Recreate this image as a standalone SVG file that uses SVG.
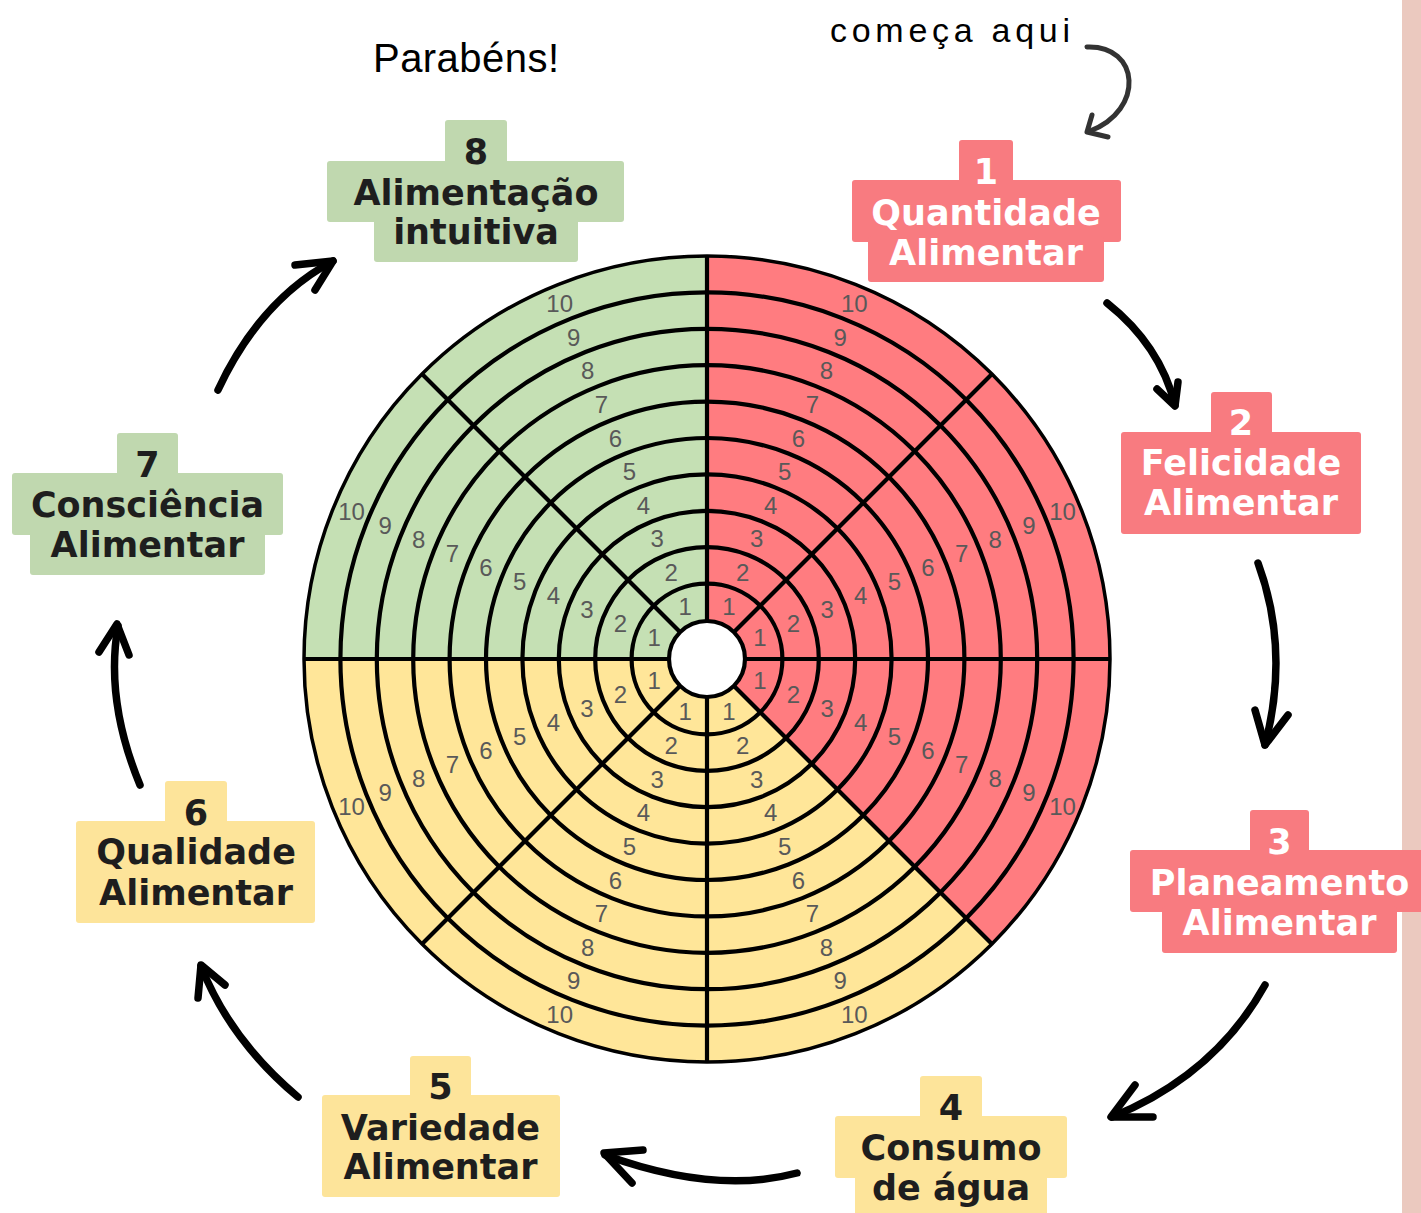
<svg xmlns="http://www.w3.org/2000/svg" width="1421" height="1213" viewBox="0 0 1421 1213">
<defs>
<style>
.ring{fill:none;stroke:#000;stroke-width:4.2}
.spoke{stroke:#000;stroke-width:4.2}
.num text{font-family:"Liberation Sans",Arial,sans-serif;font-size:24px;fill:#595959;text-anchor:middle;dominant-baseline:central}
.arrow{fill:none;stroke:#000;stroke-width:7.5;stroke-linecap:round;stroke-linejoin:round}
.arrow2{fill:none;stroke:#333;stroke-width:5;stroke-linecap:round;stroke-linejoin:round}
.lbl{font-family:"DejaVu Sans",Verdana,sans-serif;font-weight:bold;font-size:35px;text-anchor:middle}
.red rect{fill:#f87b80}
.yel rect{fill:#fde49a}
.grn rect{fill:#c0d8af}
.red text{fill:#fff}
.yel text,.grn text{fill:#1e1e1e}
.hand{font-family:"Liberation Sans",Arial,sans-serif;fill:#000}
</style>
</defs>
<rect x="0" y="0" width="1421" height="1213" fill="#fff"/>
<rect x="1402" y="0" width="19" height="1213" fill="#ebc9bf"/>

<g id="wheel">
<path d="M707,659 L707,256 A403,403 0 0 1 991.96,943.96 Z" fill="#ff7c80"/>
<path d="M707,659 L991.96,943.96 A403,403 0 0 1 304,659 Z" fill="#ffe699"/>
<path d="M707,659 L304,659 A403,403 0 0 1 707,256 Z" fill="#c5e0b4"/>
<circle class="ring" cx="707" cy="659" r="75.4"/>
<circle class="ring" cx="707" cy="659" r="111.8"/>
<circle class="ring" cx="707" cy="659" r="148.2"/>
<circle class="ring" cx="707" cy="659" r="184.6"/>
<circle class="ring" cx="707" cy="659" r="221"/>
<circle class="ring" cx="707" cy="659" r="257.4"/>
<circle class="ring" cx="707" cy="659" r="293.8"/>
<circle class="ring" cx="707" cy="659" r="330.2"/>
<circle class="ring" cx="707" cy="659" r="366.6"/>
<circle class="ring" cx="707" cy="659" r="403" style="stroke-width:3.5"/>
<line class="spoke" x1="707" y1="256" x2="707" y2="1062"/>
<line class="spoke" x1="304" y1="659" x2="1110" y2="659"/>
<line class="spoke" x1="422.04" y1="374.04" x2="991.96" y2="943.96"/>
<line class="spoke" x1="991.96" y1="374.04" x2="422.04" y2="943.96"/>
<circle cx="707" cy="659" r="38" fill="#fff" stroke="#000" stroke-width="4.2"/>
<g class="num" transform="translate(707,659)">
<text x="21.9" y="-52.9">1</text><text x="35.8" y="-86.5">2</text><text x="49.8" y="-120.1">3</text><text x="63.7" y="-153.7">4</text><text x="77.6" y="-187.4">5</text><text x="91.5" y="-221">6</text><text x="105.5" y="-254.6">7</text><text x="119.4" y="-288.3">8</text><text x="133.3" y="-321.9">9</text><text x="147.3" y="-355.5">10</text>
<text x="52.9" y="-21.9">1</text><text x="86.5" y="-35.8">2</text><text x="120.1" y="-49.8">3</text><text x="153.7" y="-63.7">4</text><text x="187.4" y="-77.6">5</text><text x="221" y="-91.5">6</text><text x="254.6" y="-105.5">7</text><text x="288.3" y="-119.4">8</text><text x="321.9" y="-133.3">9</text><text x="355.5" y="-147.3">10</text>
<text x="52.9" y="21.9">1</text><text x="86.5" y="35.8">2</text><text x="120.1" y="49.8">3</text><text x="153.7" y="63.7">4</text><text x="187.4" y="77.6">5</text><text x="221" y="91.5">6</text><text x="254.6" y="105.5">7</text><text x="288.3" y="119.4">8</text><text x="321.9" y="133.3">9</text><text x="355.5" y="147.3">10</text>
<text x="21.9" y="52.9">1</text><text x="35.8" y="86.5">2</text><text x="49.8" y="120.1">3</text><text x="63.7" y="153.7">4</text><text x="77.6" y="187.4">5</text><text x="91.5" y="221">6</text><text x="105.5" y="254.6">7</text><text x="119.4" y="288.3">8</text><text x="133.3" y="321.9">9</text><text x="147.3" y="355.5">10</text>
<text x="-21.9" y="52.9">1</text><text x="-35.8" y="86.5">2</text><text x="-49.8" y="120.1">3</text><text x="-63.7" y="153.7">4</text><text x="-77.6" y="187.4">5</text><text x="-91.5" y="221">6</text><text x="-105.5" y="254.6">7</text><text x="-119.4" y="288.3">8</text><text x="-133.3" y="321.9">9</text><text x="-147.3" y="355.5">10</text>
<text x="-52.9" y="21.9">1</text><text x="-86.5" y="35.8">2</text><text x="-120.1" y="49.8">3</text><text x="-153.7" y="63.7">4</text><text x="-187.4" y="77.6">5</text><text x="-221" y="91.5">6</text><text x="-254.6" y="105.5">7</text><text x="-288.3" y="119.4">8</text><text x="-321.9" y="133.3">9</text><text x="-355.5" y="147.3">10</text>
<text x="-52.9" y="-21.9">1</text><text x="-86.5" y="-35.8">2</text><text x="-120.1" y="-49.8">3</text><text x="-153.7" y="-63.7">4</text><text x="-187.4" y="-77.6">5</text><text x="-221" y="-91.5">6</text><text x="-254.6" y="-105.5">7</text><text x="-288.3" y="-119.4">8</text><text x="-321.9" y="-133.3">9</text><text x="-355.5" y="-147.3">10</text>
<text x="-21.9" y="-52.9">1</text><text x="-35.8" y="-86.5">2</text><text x="-49.8" y="-120.1">3</text><text x="-63.7" y="-153.7">4</text><text x="-77.6" y="-187.4">5</text><text x="-91.5" y="-221">6</text><text x="-105.5" y="-254.6">7</text><text x="-119.4" y="-288.3">8</text><text x="-133.3" y="-321.9">9</text><text x="-147.3" y="-355.5">10</text>
</g>
</g>

<g id="connectors">
<path class="arrow2" d="M1087,47 C1140,45 1145,110 1090,131"/>
<polyline class="arrow2" points="1092,115 1087,132 1108,137"/>
<path class="arrow" d="M1107,303 Q1160,345 1175,405"/>
<polyline class="arrow" points="1157,389 1175,406 1178,382"/>
<path class="arrow" d="M1258,563 Q1290,650 1265,745"/>
<polyline class="arrow" points="1255,710 1265,745 1288,715"/>
<path class="arrow" d="M1265,985 Q1215,1075 1112,1117"/>
<polyline class="arrow" points="1135,1085 1111,1117 1153,1117"/>
<path class="arrow" d="M797,1173 Q715,1195 605,1155"/>
<polyline class="arrow" points="643,1150 604,1153 632,1183"/>
<path class="arrow" d="M298,1097 Q230,1040 201,966"/>
<polyline class="arrow" points="198,998 201,965 225,985"/>
<path class="arrow" d="M140,785 Q105,700 118,626"/>
<polyline class="arrow" points="99,652 117,624 129,655"/>
<path class="arrow" d="M218,390 Q260,300 333,261"/>
<polyline class="arrow" points="295,265 333,261 315,290"/>
</g>

<g id="start-note">
<text class="hand" x="830" y="42" font-size="34" textLength="240" lengthAdjust="spacing">começa aqui</text>
</g>
<g id="end-note">
<text class="hand" x="373" y="72" font-size="40" textLength="186" lengthAdjust="spacing">Parabéns!</text>
</g>

<g id="node1" class="red">
<rect x="959" y="140" width="54" height="46" rx="3"/>
<rect x="852" y="180" width="269" height="62" rx="3"/>
<rect x="868" y="236" width="236" height="46" rx="3"/>
<text class="lbl" x="986" y="184">1</text>
<text class="lbl" x="986" y="225">Quantidade</text>
<text class="lbl" x="986" y="265">Alimentar</text>
</g>
<g id="node2" class="red">
<rect x="1211" y="392" width="61" height="46" rx="3"/>
<rect x="1121" y="432" width="240" height="102" rx="3"/>
<text class="lbl" x="1241" y="435">2</text>
<text class="lbl" x="1241" y="475">Felicidade</text>
<text class="lbl" x="1241" y="515">Alimentar</text>
</g>
<g id="node3" class="red">
<rect x="1250" y="810" width="59" height="46" rx="3"/>
<rect x="1130" y="850" width="295" height="62" rx="3"/>
<rect x="1162" y="906" width="235" height="47" rx="3"/>
<text class="lbl" x="1279.5" y="854">3</text>
<text class="lbl" x="1279.5" y="895">Planeamento</text>
<text class="lbl" x="1279.5" y="935">Alimentar</text>
</g>
<g id="node4" class="yel">
<rect x="920" y="1076" width="62" height="46" rx="3"/>
<rect x="835" y="1116" width="232" height="62" rx="3"/>
<rect x="855" y="1172" width="192" height="50" rx="3"/>
<text class="lbl" x="951" y="1120">4</text>
<text class="lbl" x="951" y="1160">Consumo</text>
<text class="lbl" x="951" y="1200">de água</text>
</g>
<g id="node5" class="yel">
<rect x="410" y="1056" width="61" height="46" rx="3"/>
<rect x="322" y="1095" width="238" height="102" rx="3"/>
<text class="lbl" x="440.5" y="1099">5</text>
<text class="lbl" x="440.5" y="1140">Variedade</text>
<text class="lbl" x="440.5" y="1179">Alimentar</text>
</g>
<g id="node6" class="yel">
<rect x="165" y="781" width="62" height="46" rx="3"/>
<rect x="76" y="821" width="239" height="102" rx="3"/>
<text class="lbl" x="196" y="825">6</text>
<text class="lbl" x="196" y="864">Qualidade</text>
<text class="lbl" x="196" y="905">Alimentar</text>
</g>
<g id="node7" class="grn">
<rect x="117" y="433" width="61" height="46" rx="3"/>
<rect x="12" y="473" width="271" height="62" rx="3"/>
<rect x="30" y="529" width="235" height="46" rx="3"/>
<text class="lbl" x="147.5" y="477">7</text>
<text class="lbl" x="147.5" y="517">Consciência</text>
<text class="lbl" x="147.5" y="557">Alimentar</text>
</g>
<g id="node8" class="grn">
<rect x="445" y="120" width="62" height="46" rx="3"/>
<rect x="327" y="161" width="297" height="61" rx="3"/>
<rect x="374" y="216" width="204" height="46" rx="3"/>
<text class="lbl" x="476" y="164">8</text>
<text class="lbl" x="476" y="205">Alimentação</text>
<text class="lbl" x="476" y="244">intuitiva</text>
</g>
</svg>
